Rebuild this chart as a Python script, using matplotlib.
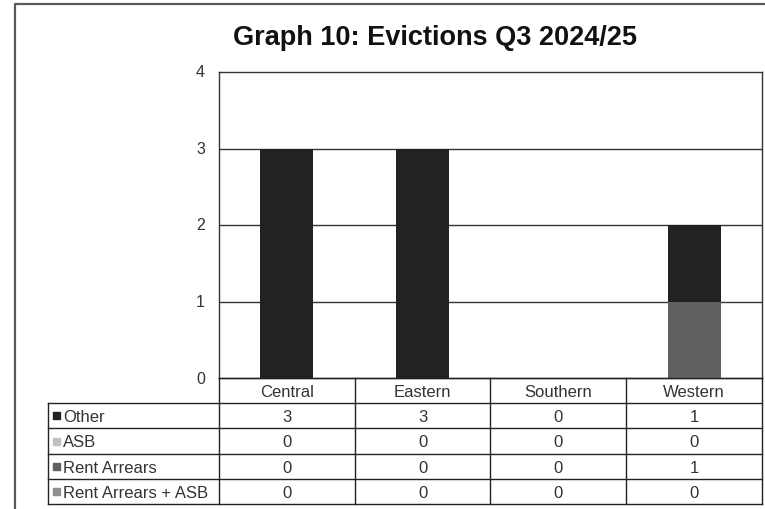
import matplotlib
matplotlib.use("Agg")
import matplotlib.pyplot as plt
from matplotlib.lines import Line2D
from matplotlib.patches import Rectangle

plt.rcParams['font.family'] = ['Liberation Sans', 'DejaVu Sans']

title = "Graph 10: Evictions Q3 2024/25"
categories = ["Central", "Eastern", "Southern", "Western"]
series_names = ["Other", "ASB", "Rent Arrears", "Rent Arrears + ASB"]
other = [3, 3, 0, 1]
asb = [0, 0, 0, 0]
rent_arrears = [0, 0, 0, 1]
rent_arrears_asb = [0, 0, 0, 0]
series_values = [other, asb, rent_arrears, rent_arrears_asb]
colors = ["#222222", "#c0c0c0", "#606060", "#909090"]
yticks = [0, 1, 2, 3, 4]

W, H = 765, 510
fig = plt.figure(figsize=(W / 100, H / 100), dpi=100)

# plot area in pixels
pl, pr, pt, pb = 219, 762, 73, 379
ax = fig.add_axes([pl / W, 1 - pb / H, (pr - pl) / W, (pb - pt) / H])
x = list(range(len(categories)))
bottom = [0] * len(categories)
# stacking order: last series of the table at the bottom
for name, vals, col in reversed(list(zip(series_names, series_values, colors))):
    ax.bar(x, vals, width=0.39, bottom=bottom, color=col, zorder=3)
    bottom = [b + v for b, v in zip(bottom, vals)]
ax.set_xlim(-0.5, len(categories) - 0.5)
ax.set_ylim(0, 4)
ax.set_yticks(yticks)
ax.set_yticklabels([str(t) for t in yticks], fontsize=11.5, color="#333333",
                   va='center')
ax.tick_params(axis='y', length=0, pad=10)
ax.set_xticks([])
for t in yticks[1:-1]:
    ax.axhline(t, color="#333333", lw=1.0, zorder=1)
for s in ax.spines.values():
    s.set_color("#333333")
    s.set_linewidth(1.0)

# overlay for table and border
ov = fig.add_axes([0, 0, 1, 1], facecolor='none')
ov.set_xlim(0, W)
ov.set_ylim(H, 0)
ov.axis('off')

# outer chart border
ov.add_line(Line2D([15, 15, W + 5], [H + 5, 5, 5], color="#595959", lw=1.6))

# title
ov.text(435, 38, title, ha='center', va='center',
        fontsize=19.5, fontweight='bold', color="#111111")

# data table
tl = 48
row_h = 25.2
hdr_top = pb
n_rows = len(series_names)
tbottom = hdr_top + row_h * (n_rows + 1)
col_w = (pr - pl) / len(categories)
lc = "#222222"
lw = 1.0
fs = 12
tc = "#333333"
# vertical lines
for i in range(len(categories) + 1):
    xx = pl + i * col_w
    ov.add_line(Line2D([xx, xx], [hdr_top, tbottom], color=lc, lw=lw))
ov.add_line(Line2D([tl, tl], [hdr_top + row_h, tbottom], color=lc, lw=lw))
# horizontal lines
ov.add_line(Line2D([pl, pr], [hdr_top, hdr_top], color=lc, lw=lw))
for r in range(1, n_rows + 2):
    yy = hdr_top + r * row_h
    ov.add_line(Line2D([tl, pr], [yy, yy], color=lc, lw=lw))
# header
for i, c in enumerate(categories):
    ov.text(pl + (i + 0.5) * col_w, hdr_top + row_h / 2 + 1, c, ha='center', va='center',
            fontsize=fs, color=tc)
# rows
for r, (name, vals, col) in enumerate(zip(series_names, series_values, colors)):
    yc = hdr_top + (r + 1.5) * row_h
    ov.add_patch(Rectangle((tl + 5, yc - 3.5), 7, 7, color=col))
    ov.text(tl + 15, yc + 1, name, ha='left', va='center', fontsize=fs, color=tc)
    for i, v in enumerate(vals):
        ov.text(pl + (i + 0.5) * col_w, yc + 1, str(v), ha='center', va='center',
                fontsize=fs, color=tc)

fig.savefig("out.png", dpi=100)
